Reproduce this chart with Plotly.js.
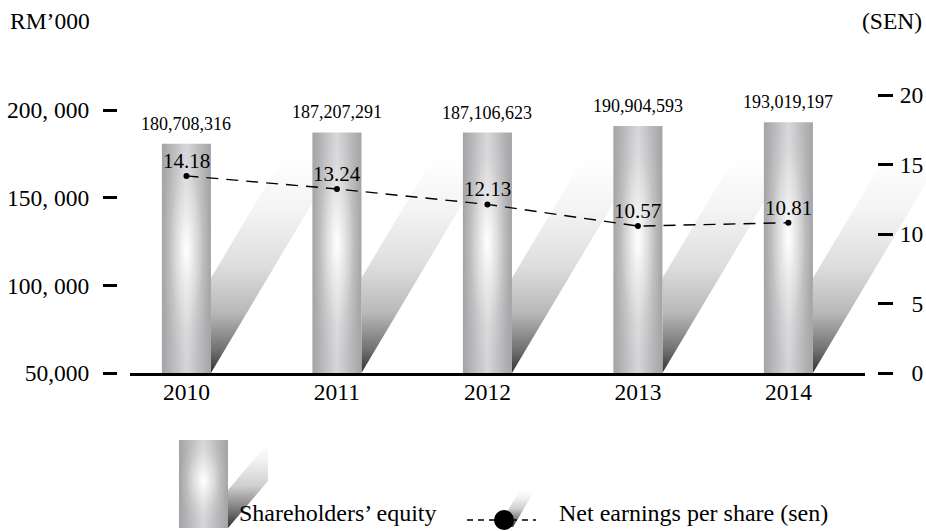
<!DOCTYPE html>
<html>
<head>
<meta charset="utf-8">
<script src="https://cdn.plot.ly/plotly-3.0.1.min.js"></script>
<style>
  html, body { margin: 0; padding: 0; background: #fff; }
  #chart { width: 926px; height: 531px; }
</style>
</head>
<body>
<div id="chart"></div>
<script>
// ---------- data ----------
const years = ['2010', '2011', '2012', '2013', '2014'];
const equity = [180708.316, 187207.291, 187106.623, 190904.593, 193019.197]; // RM'000
const equityLabels = ['180,708,316', '187,207,291', '187,106,623', '190,904,593', '193,019,197'];
const eps = [14.18, 13.24, 12.13, 10.57, 10.81]; // sen
const epsLabels = ['14.18', '13.24', '12.13', '10.57', '10.81'];
const leftTicks = [50000, 100000, 150000, 200000];
const leftTickLabels = ['50,000', '100, 000', '150, 000', '200, 000'];
const rightTicks = [0, 5, 10, 15, 20];
const rightTickLabels = ['\u00A0\u00A00', '\u00A0\u00A05', '10', '15', '20'];
const legendNames = ['Shareholders\u2019 equity', 'Net earnings per share (sen)'];
const leftUnit = 'RM\u2019000';
const rightUnit = '(SEN)';

// ---------- geometry helpers ----------
const W = 926, H = 531, ML = 117, MR = 49, MT = 80, MB = 158;
const PW = W - ML - MR, PH = H - MT - MB;
const px2x = p => (p - ML) / PW;
const py2y = p => (H - MB - p) / PH;
const serif = 'Liberation Serif, Times New Roman, serif';

const gd = document.getElementById('chart');

const barTrace = {
  type: 'bar', x: years, y: equity, name: legendNames[0],
  width: 0.326, marker: { color: '#bdbdbd', line: { width: 0 } },
  cliponaxis: false, hoverinfo: 'skip'
};
const epsTrace = {
  type: 'scatter', mode: 'lines+markers', x: years, y: eps, yaxis: 'y2',
  name: legendNames[1],
  line: { color: '#000', width: 1.4, dash: '12px,8px' },
  marker: { color: '#000', size: 6 }, cliponaxis: false, hoverinfo: 'skip'
};

const annotations = [];
years.forEach((yr, i) => {
  annotations.push({
    xref: 'x', yref: 'y', x: i, y: equity[i], text: equityLabels[i],
    yanchor: 'bottom', xanchor: 'center', yshift: 8, showarrow: false,
    font: { family: serif, size: 18, color: '#000' }
  });
  annotations.push({
    xref: 'x', yref: 'y2', x: i, y: eps[i], text: epsLabels[i],
    yanchor: 'bottom', xanchor: 'center', yshift: 1, showarrow: false,
    font: { family: serif, size: 21, color: '#000' }
  });
});
annotations.push(
  { xref: 'paper', yref: 'paper', x: px2x(8), y: py2y(21), xanchor: 'left', yanchor: 'middle',
    text: leftUnit, showarrow: false, font: { family: serif, size: 23.5, color: '#000' } },
  { xref: 'paper', yref: 'paper', x: px2x(924), y: py2y(21), xanchor: 'right', yanchor: 'middle',
    text: rightUnit, showarrow: false, font: { family: serif, size: 23.5, color: '#000' } },
  { xref: 'paper', yref: 'paper', x: px2x(237), y: py2y(513), xanchor: 'left', yanchor: 'middle',
    text: legendNames[0], showarrow: false, font: { family: serif, size: 24, color: '#000' } },
  { xref: 'paper', yref: 'paper', x: px2x(557), y: py2y(513), xanchor: 'left', yanchor: 'middle',
    text: legendNames[1], showarrow: false, font: { family: serif, size: 24, color: '#000' } }
);

function ppath(pts) {
  return 'M' + pts.map(p => px2x(p[0]) + ',' + py2y(p[1])).join('L') + 'Z';
}
const shapes = [
  // 0: legend icon shadow
  { type: 'path', xref: 'paper', yref: 'paper', path: ppath([[228, 528], [228, 490], [268, 443], [268, 481]]),
    fillcolor: '#ccc', line: { width: 0 } },
  // 1: legend dot shadow
  { type: 'path', xref: 'paper', yref: 'paper', path: ppath([[498, 527], [513, 527], [535, 490], [520, 490]]),
    fillcolor: '#ccc', line: { width: 0 } },
  // 2: legend icon
  { type: 'rect', xref: 'paper', yref: 'paper', x0: px2x(179), x1: px2x(228), y0: py2y(528), y1: py2y(440),
    fillcolor: '#bdbdbd', line: { width: 0 } },
  // 3: legend icon glow
  { type: 'rect', xref: 'paper', yref: 'paper', x0: px2x(179), x1: px2x(228), y0: py2y(528), y1: py2y(440),
    fillcolor: 'rgba(255,255,255,0.3)', line: { width: 0 } },
  // 4: legend dashed line
  { type: 'line', xref: 'paper', yref: 'paper', x0: px2x(467), x1: px2x(536), y0: py2y(520), y1: py2y(520),
    line: { color: '#000', width: 1.4, dash: '6px,5px' } },
  // 5: legend dot
  { type: 'circle', xref: 'paper', yref: 'paper', x0: px2x(494), x1: px2x(514), y0: py2y(530), y1: py2y(510),
    fillcolor: '#000', line: { width: 0 } }
];

const layout = {
  width: W, height: H,
  margin: { l: ML, r: MR, t: MT, b: MB, pad: 0 },
  paper_bgcolor: '#fff', plot_bgcolor: '#fff',
  showlegend: false,
  font: { family: serif, color: '#000', size: 23.5 },
  xaxis: {
    type: 'category', domain: [px2x(130), px2x(865)], range: [-0.375, 4.509],
    showline: true, linewidth: 3, linecolor: '#000', ticks: '', showgrid: false, zeroline: false,
    tickfont: { family: serif, size: 23.5, color: '#000' }, ticklabelstandoff: -4, fixedrange: true
  },
  yaxis: {
    anchor: 'free', position: 0, range: [50000, 217110],
    tickmode: 'array', tickvals: leftTicks, ticktext: leftTickLabels,
    ticks: 'outside', ticklen: 14, tickwidth: 3, tickcolor: '#000',
    showline: false, showgrid: false, zeroline: false, ticklabelstandoff: 9,
    tickfont: { family: serif, size: 23.5, color: '#000' }, fixedrange: true
  },
  yaxis2: {
    overlaying: 'y', side: 'right', anchor: 'free', position: 1, range: [0, 21.08],
    tickmode: 'array', tickvals: rightTicks, ticktext: rightTickLabels,
    ticks: 'outside', ticklen: 15, tickwidth: 3, tickcolor: '#000',
    showline: false, showgrid: false, zeroline: false, ticklabelstandoff: 2,
    tickfont: { family: serif, size: 23.5, color: '#000' }, fixedrange: true
  },
  annotations: annotations,
  shapes: shapes
};

const NS = 'http://www.w3.org/2000/svg';
function el(tag, attrs, parent) {
  const e = document.createElementNS(NS, tag);
  for (const k in attrs) e.setAttribute(k, attrs[k]);
  if (parent) parent.appendChild(e);
  return e;
}
function addStops(g, stops) {
  stops.forEach(s => el('stop', { offset: s[0], 'stop-color': s[1], 'stop-opacity': s[2] == null ? 1 : s[2] }, g));
}

function decorate() {
  const svg = gd.querySelector('svg.main-svg');
  let defs = svg.querySelector('defs');
  if (!defs) defs = el('defs', {}, svg);
  const ya = gd._fullLayout.yaxis;
  const plotH = ya._length;

  const gBase = el('linearGradient', { id: 'barBase', x1: 0, y1: 0, x2: 1, y2: 0 }, defs);
  addStops(gBase, [[0, '#a4a4a6'], [0.5, '#d6d6d8'], [1, '#a4a4a6']]);
  const gGlow = el('radialGradient', { id: 'barGlow', cx: 0.5, cy: 0.46, r: 0.5 }, defs);
  addStops(gGlow, [[0, '#ffffff', 1], [0.3, '#ffffff', 0.55], [0.7, '#ffffff', 0.12], [1, '#ffffff', 0]]);
  const gShadow = el('linearGradient', { id: 'barShadow', gradientUnits: 'userSpaceOnUse',
    x1: 0, y1: plotH, x2: 0, y2: plotH - 215 }, defs);
  addStops(gShadow, [[0, '#303030'], [0.1, '#6e6e6e'], [0.28, '#b8b8b8'], [0.5, '#dedede'], [0.75, '#f3f3f3'], [1, '#ffffff']]);
  const gLegShadow = el('linearGradient', { id: 'legShadow', x1: 0, y1: 1, x2: 0, y2: 0 }, defs);
  addStops(gLegShadow, [[0, '#303030'], [0.2, '#757575'], [0.5, '#d0d0d0'], [0.8, '#f2f2f2'], [1, '#ffffff']]);

  // bars: clamp to axis, apply shading, add shadows beneath
  const barPaths = Array.from(gd.querySelectorAll('.barlayer .point path'));
  const barLayer = gd.querySelector('.barlayer');
  const shadowG = el('g', { class: 'bar-shadows' });
  barLayer.insertBefore(shadowG, barLayer.firstChild);
  const slope = 0.596, thick = 95, rise = 215;
  barPaths.forEach(p => {
    const bb = p.getBBox();
    const x0 = bb.x, x1 = bb.x + bb.width, top = bb.y;
    p.setAttribute('d', `M${x0},${plotH}V${top}H${x1}V${plotH}Z`);
    p.style.fill = 'url(#barBase)';
    p.style.fillOpacity = 1;
    const glow = p.cloneNode(false);
    glow.style.fill = 'url(#barGlow)';
    p.parentNode.insertBefore(glow, p.nextSibling);
    const dx = slope * rise;
    el('path', {
      d: `M${x1},${plotH}L${x1},${plotH - thick}L${x1 + dx},${plotH - thick - rise}L${x1 + dx},${plotH - rise}Z`,
      fill: 'url(#barShadow)'
    }, shadowG);
  });

  // legend decorations
  const shapePaths = Array.from(gd.querySelectorAll('.shapelayer path'));
  shapePaths.forEach(sp => {
    const idx = sp.getAttribute('data-index');
    if (idx === '0' || idx === '1') sp.style.fill = 'url(#legShadow)';
    if (idx === '2') sp.style.fill = 'url(#barBase)';
    if (idx === '3') sp.style.fill = 'url(#barGlow)';
    if (idx === '0' || idx === '1' || idx === '2' || idx === '3') sp.style.fillOpacity = 1;
  });
}

Plotly.newPlot(gd, [barTrace, epsTrace], layout, { staticPlot: true, displayModeBar: false })
  .then(decorate);
</script>
</body>
</html>
